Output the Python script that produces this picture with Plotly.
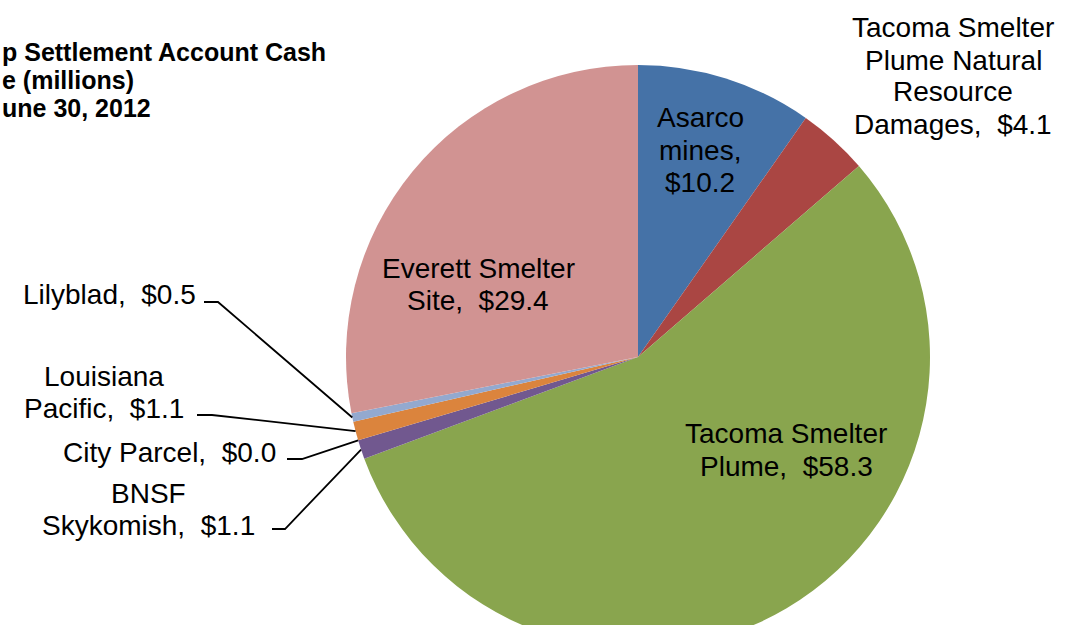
import math
import plotly.graph_objects as go

# ---- data ----
labels = ["Asarco mines", "Tacoma Smelter Plume Natural Resource Damages",
          "Tacoma Smelter Plume", "BNSF Skykomish", "City Parcel",
          "Louisiana Pacific", "Lilyblad", "Everett Smelter Site"]
values = [10.2, 4.1, 58.3, 1.1, 0.0, 1.1, 0.5, 29.4]
colors = ["#4572A7", "#AA4643", "#89A54E", "#71588F", "#4198AF",
          "#DB843D", "#93A9CF", "#D19392"]
# label text layout (line breaks) for each slice
label_display = ["Asarco<br>mines,<br>", "Tacoma Smelter<br>Plume Natural<br>Resource<br>Damages,  ",
                 "Tacoma Smelter<br>Plume,  ", "BNSF<br>Skykomish,  ", "City Parcel,  ",
                 "Louisiana<br>Pacific,  ", "Lilyblad,  ", "Everett Smelter<br>Site,  "]
title_lines = ["p Settlement Account Cash", "e (millions)", "une 30, 2012"]

W = 1069
CX, CY, R = 638, 357, 292
H = 2 * CY

def px(x):
    return x / W

def py(y):
    return 1 - y / H

fig = go.Figure(go.Pie(
    labels=labels, values=values, sort=False, direction="clockwise", rotation=0,
    marker=dict(colors=colors, line=dict(width=0)),
    textinfo="none", hoverinfo="label+value",
    domain=dict(x=[px(CX - R), px(CX + R)], y=[0, 1]),
    showlegend=False,
))

FONT = "Liberation Sans, Arial, sans-serif"
LABEL_SIZE, LABEL_STEP = 28, 32


def add_lines(lines, x, yc, xa, step, fnt):
    n = len(lines)
    for k, line in enumerate(lines):
        y = yc + (k - (n - 1) / 2) * step
        fig.add_annotation(text=line, x=px(x), y=py(y), xref="paper", yref="paper",
                           xanchor=xa, yanchor="middle", showarrow=False, font=fnt)


# label placements: (index, x px, y px, xanchor)
placements = [
    (0, 700, 150, "center"),
    (1, 953, 76, "center"),
    (2, 786, 450, "center"),
    (3, 148, 509, "center"),
    (4, 278, 452, "right"),
    (5, 104, 392, "center"),
    (6, 198, 294, "right"),
    (7, 478, 284, "center"),
]
lab_font = dict(family=FONT, size=LABEL_SIZE, color="black")
for i, x, y, xa in placements:
    txt = f"{label_display[i]}${values[i]:.1f}"
    add_lines(txt.split("<br>"), x, y, xa, LABEL_STEP, lab_font)

# leader lines: start stub (px) -> slice edge computed from data
total = sum(values)
cum = [sum(values[:k]) for k in range(len(values))]


def edge_point(i):
    mid = (cum[i] + values[i] / 2) / total * 2 * math.pi
    return CX + R * math.sin(mid), CY - R * math.cos(mid)


leaders = [
    (6, 204, 218, 302),
    (5, 197, 212, 415),
    (4, 287, 302, 459),
    (3, 272, 285, 529),
]
for i, x0, x1, y0 in leaders:
    ex, ey = edge_point(i)
    path = f"M {px(x0)} {py(y0)} L {px(x1)} {py(y0)} L {px(ex)} {py(ey)}"
    fig.add_shape(type="path", path=path, xref="paper", yref="paper",
                  line=dict(color="black", width=1.8))

add_lines(title_lines, 0, 80, "left", 28,
          dict(family=FONT, size=25, color="black", weight="bold"))

fig.update_layout(width=W, height=H, margin=dict(l=0, r=0, t=0, b=0),
                  paper_bgcolor="white", plot_bgcolor="white")
fig.write_html("out.html")
